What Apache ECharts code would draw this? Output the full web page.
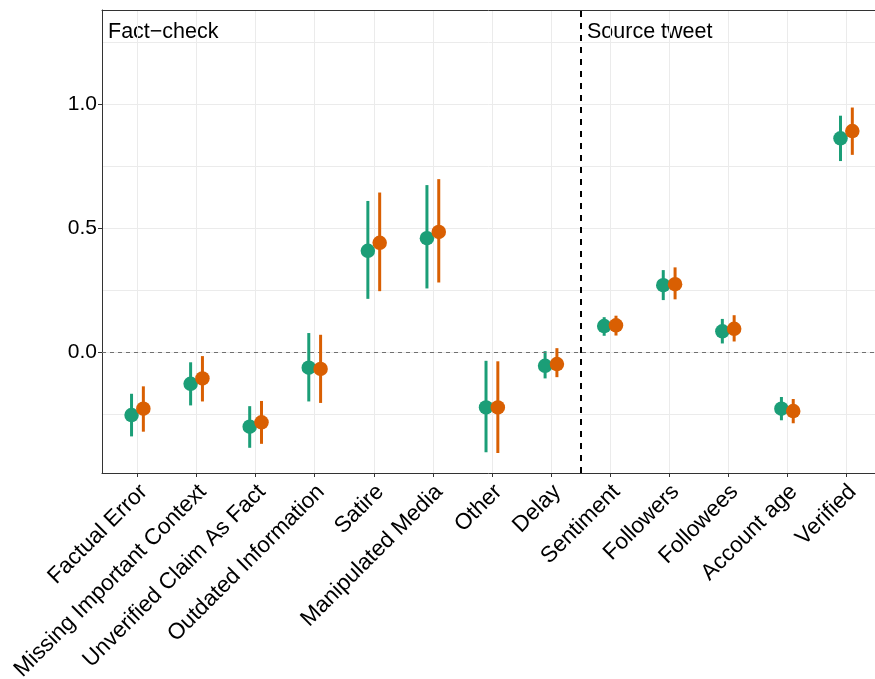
<!DOCTYPE html>
<html><head><meta charset="utf-8">
<script src="https://cdn.jsdelivr.net/npm/echarts@6/dist/echarts.min.js"></script>
<style>html,body{margin:0;padding:0;background:#fff}#c{width:875px;height:679px}</style>
</head><body><div id="c"></div>
<script>
const categories = ['Factual Error','Missing Important Context','Unverified Claim As Fact','Outdated Information','Satire','Manipulated Media','Other','Delay','Sentiment','Followers','Followees','Account age','Verified'];
const greenEst  = [-0.253,-0.127,-0.300,-0.062,0.410,0.461,-0.222,-0.054,0.106,0.271,0.085,-0.227,0.864];
const greenLow  = [-0.339,-0.214,-0.385,-0.198,0.216,0.258,-0.403,-0.105,0.067,0.211,0.036,-0.274,0.772];
const greenHigh = [-0.167,-0.040,-0.217,0.078,0.611,0.675,-0.034,0.005,0.142,0.332,0.135,-0.180,0.955];
const orangeEst  = [-0.227,-0.105,-0.282,-0.067,0.442,0.486,-0.222,-0.047,0.109,0.275,0.095,-0.237,0.893];
const orangeLow  = [-0.320,-0.198,-0.369,-0.204,0.247,0.282,-0.406,-0.100,0.068,0.214,0.044,-0.286,0.797];
const orangeHigh = [-0.137,-0.015,-0.196,0.071,0.645,0.699,-0.036,0.017,0.148,0.343,0.150,-0.188,0.988];
const yTicks = [0, 0.5, 1.0];
const yMinorTicks = [-0.25, 0.25, 0.75, 1.25];
const dividerAt = 8.5;
const panelLabels = ['Fact\u2212check', 'Source tweet'];

const DODGE = 0.1;
const FONT = 'Liberation Sans, Arial, Helvetica, sans-serif';
const xs = categories.map((c, i) => i + 1);
const X_MIN = 0.4, X_MAX = 13.484, Y_MIN = -0.4867, Y_MAX = 1.3815;

function pts(est, off) { return est.map((v, i) => [i + 1 + off, v]); }
function bars(lo, hi, off) { return lo.map((v, i) => [i + 1 + off, v, hi[i]]); }
function renderBar(params, api) {
  const x = api.value(0);
  const p1 = api.coord([x, api.value(1)]);
  const p2 = api.coord([x, api.value(2)]);
  return { type: 'line', shape: { x1: p1[0], y1: p1[1], x2: p2[0], y2: p2[1] },
           style: { stroke: api.visual('color'), lineWidth: 3 } };
}
const GREEN = '#1B9E77', ORANGE = '#D95F02';
const axisLineStyle = { color: '#333', width: 1 };

const chart = echarts.init(document.getElementById('c'), null, { renderer: 'canvas' });
chart.setOption({
  animation: false,
  backgroundColor: '#fff',
  grid: { left: 102, right: 0, top: 10, bottom: 206, outerBoundsMode: 'none' },
  xAxis: [{
    type: 'value', min: X_MIN, max: X_MAX,
    axisLine: { show: true, onZero: false, lineStyle: axisLineStyle },
    axisTick: { show: true, customValues: xs, length: 4, lineStyle: { color: '#333' } },
    axisLabel: { customValues: xs, formatter: v => categories[Math.round(v) - 1], rotate: 45,
                 fontSize: 22.5, color: '#000', fontFamily: FONT, margin: 2,
                 verticalAlign: 'top', padding: [2.5, 5, 0, 0] },
    splitLine: { show: true, lineStyle: { color: '#ebebeb', width: 1 } }
  }, {
    type: 'value', position: 'top', min: X_MIN, max: X_MAX,
    axisLine: { show: true, onZero: false, lineStyle: axisLineStyle },
    axisTick: { show: false }, axisLabel: { show: false }, splitLine: { show: false }
  }],
  yAxis: [{
    type: 'value', min: Y_MIN, max: Y_MAX,
    axisLine: { show: true, onZero: false, lineStyle: axisLineStyle },
    axisTick: { show: true, customValues: yTicks, length: 4, lineStyle: { color: '#333' } },
    axisLabel: { customValues: yTicks, formatter: v => v.toFixed(1), fontSize: 21, color: '#000', fontFamily: FONT, margin: 5 },
    splitLine: { show: true, lineStyle: { color: '#ebebeb', width: 1 } }
  }, {
    type: 'value', min: Y_MIN, max: Y_MAX, position: 'left',
    axisLine: { show: false }, axisTick: { show: false, customValues: yMinorTicks },
    axisLabel: { show: false, customValues: yMinorTicks },
    splitLine: { show: true, lineStyle: { color: '#ebebeb', width: 1 } }
  }],
  series: [
    { type: 'custom', name: 'green range', renderItem: renderBar, data: bars(greenLow, greenHigh, -DODGE),
      encode: { x: 0, y: [1, 2] }, itemStyle: { color: GREEN }, z: 3,
      markLine: { silent: true, symbol: 'none', label: { show: false }, animation: false,
        data: [
          { yAxis: 0, lineStyle: { color: '#707070', type: [4, 4], width: 1 } },
          { xAxis: dividerAt, lineStyle: { color: '#000', type: [6, 6], width: 2 } }
        ] } },
    { type: 'scatter', name: 'green', data: pts(greenEst, -DODGE), symbolSize: 14.5, itemStyle: { color: GREEN, opacity: 1 }, z: 4 },
    { type: 'custom', name: 'orange range', renderItem: renderBar, data: bars(orangeLow, orangeHigh, DODGE),
      encode: { x: 0, y: [1, 2] }, itemStyle: { color: ORANGE }, z: 5 },
    { type: 'scatter', name: 'orange', data: pts(orangeEst, DODGE), symbolSize: 14.5, itemStyle: { color: ORANGE, opacity: 1 }, z: 6 }
  ],
  graphic: [
    { type: 'text', left: 108, top: 21, style: { text: panelLabels[0], font: '21.5px ' + FONT, fill: '#000' } },
    { type: 'text', left: 587, top: 21, style: { text: panelLabels[1], font: '21.5px ' + FONT, fill: '#000' } }
  ]
});
</script></body></html>
